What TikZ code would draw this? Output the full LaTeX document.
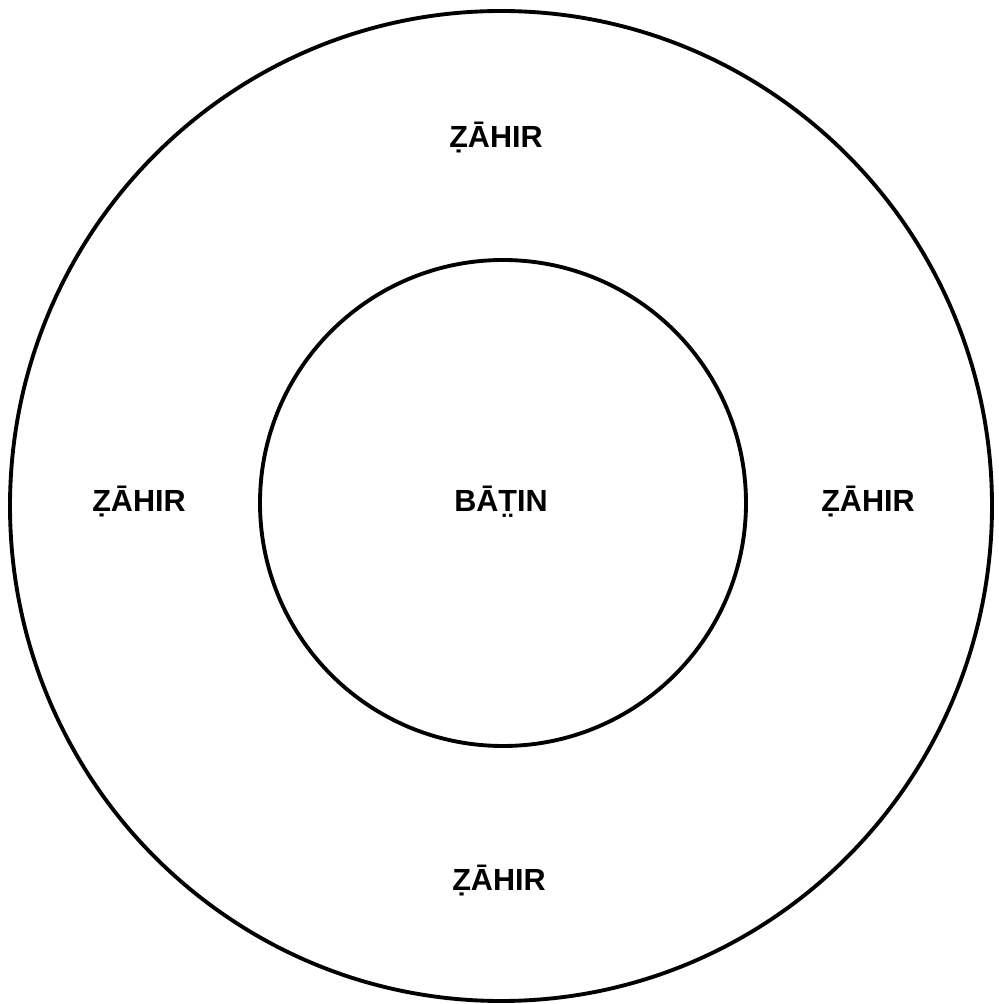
\documentclass[tikz,border=0pt]{standalone}
\usepackage{fontspec}
\setmainfont{Liberation Sans}
\usepackage{tikz}
\usetikzlibrary{positioning}

\tikzset{
  ring/.style={line width=1.1pt},
  lbl/.style={anchor=base,inner sep=0pt,font=\fontsize{8.7}{10.4}\selectfont\bfseries}
}

\begin{document}
\begin{tikzpicture}
    \useasboundingbox (0,0) rectangle (9.98,10.04);
    % rings
    \draw[ring] (5.01,4.98) ellipse (4.91 and 4.95);
    \draw[ring] (5.03,5.01) circle (2.43);
    % outer labels
    \node[lbl] (zTop) at (4.96,8.56) {Ẓ\=AHIR};
    \node[lbl] (zLeft) at (1.39,4.92) {Ẓ\=AHIR};
    \node[lbl] (zRight) at (8.68,4.92) {Ẓ\=AHIR};
    \node[lbl] (zBottom) at (4.99,1.13) {Ẓ\=AHIR};
    % centre
    \node[lbl] (batin) at (5.01,4.92) {B\=AT^^^^0324IN};
\end{tikzpicture}
\end{document}
